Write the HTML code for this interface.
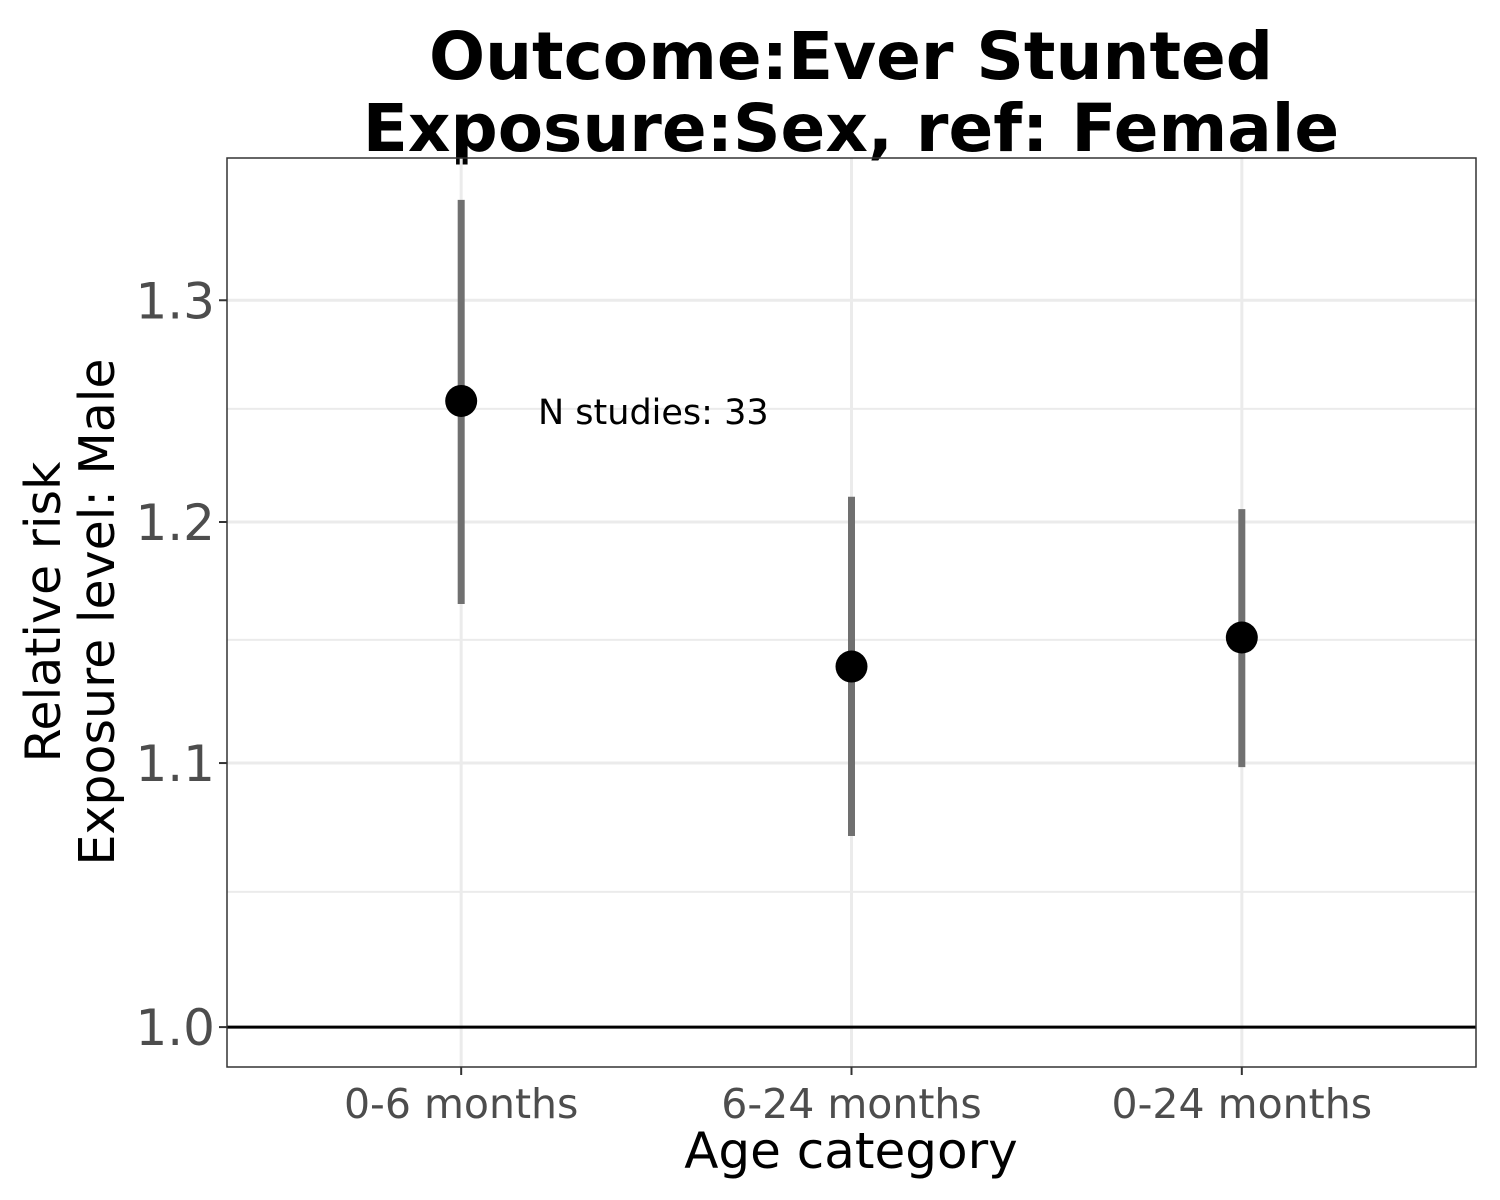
<!DOCTYPE html>
<html><head><meta charset="utf-8"><style>
html,body{margin:0;padding:0;background:#fff;}
svg{display:block;font-family:"DejaVu Sans","Liberation Sans",sans-serif;}
</style></head><body>
<svg id="chart" width="1500" height="1200" viewBox="0 0 1500 1200">
<text x="851" y="79" text-anchor="middle" font-size="66" font-weight="bold">Outcome:Ever Stunted</text>
<text x="851" y="151" text-anchor="middle" font-size="66" font-weight="bold">Exposure:Sex, ref: Female</text>
<g id="grid"></g>
<g id="marks"></g>
<rect x="227" y="158" width="1249" height="909" fill="none" stroke="#333" stroke-width="1.5"/>
<g id="axes"></g>
<text x="851" y="1168" text-anchor="middle" font-size="50">Age category</text>
<text transform="translate(60,612) rotate(-90)" text-anchor="middle" font-size="49">Relative risk</text>
<text transform="translate(114,612) rotate(-90)" text-anchor="middle" font-size="49">Exposure level: Male</text>
<text x="538" y="424" font-size="35">N studies: 33</text>
</svg>
<script>
const categories = ["0-6 months","6-24 months","0-24 months"];
const estimates = [1.2536, 1.139, 1.151];
const lowerCI = [1.165, 1.0714, 1.0984];
const upperCI = [1.348, 1.211, 1.2056];
const yTicks = [1.0, 1.1, 1.2, 1.3];
const yTickLabels = ["1.0","1.1","1.2","1.3"];
const yMinor = [1.05, 1.15, 1.25];

const NS = "http://www.w3.org/2000/svg";
const px0 = 227, px1 = 1476, py0 = 158, py1 = 1067;
const yMin = 0.9857, yMax = 1.3685;
function y(v){ return py1 - (Math.log(v)-Math.log(yMin))/(Math.log(yMax)-Math.log(yMin))*(py1-py0); }
const step = (px1-px0)/(categories.length+0.2);
function x(i){ return px0 + step*(0.6+i); }
function mk(tag, attrs, parent){ const e=document.createElementNS(NS,tag); for(const k in attrs) e.setAttribute(k,attrs[k]); document.getElementById(parent).appendChild(e); return e; }

yMinor.forEach(v=>{ const e=mk("line",{x1:px0,x2:px1,y1:y(v),y2:y(v),stroke:"#ebebeb","stroke-width":2},"grid");

 });
yTicks.forEach((v,i)=>{ const e=mk("line",{x1:px0,x2:px1,y1:y(v),y2:y(v),stroke:"#ebebeb","stroke-width":3},"grid");


const t=mk("line",{x1:px0-8,x2:px0,y1:y(v),y2:y(v),stroke:"#333","stroke-width":2},"axes");


const l=mk("text",{x:px0-12,y:y(v)+18,"text-anchor":"end","font-size":50,fill:"#4d4d4d"},"axes"); l.textContent=yTickLabels[i];

 });
categories.forEach((c,i)=>{ const e=mk("line",{x1:x(i),x2:x(i),y1:py0,y2:py1,stroke:"#ebebeb","stroke-width":3},"grid");


const t=mk("line",{x1:x(i),x2:x(i),y1:py1,y2:py1+8,stroke:"#333","stroke-width":2},"axes");


const l=mk("text",{x:x(i),y:1118,"text-anchor":"middle","font-size":41,fill:"#4d4d4d"},"axes"); l.textContent=c;

 });
const ref=mk("line",{x1:px0,x2:px1,y1:y(1),y2:y(1),stroke:"#000","stroke-width":3},"marks");


categories.forEach((c,i)=>{ const e=mk("line",{x1:x(i),x2:x(i),y1:y(upperCI[i]),y2:y(lowerCI[i]),stroke:"#707070","stroke-width":7},"marks");


const p=mk("circle",{cx:x(i),cy:y(estimates[i]),r:16,fill:"#000"},"marks");

 });
</script>
</body></html>
